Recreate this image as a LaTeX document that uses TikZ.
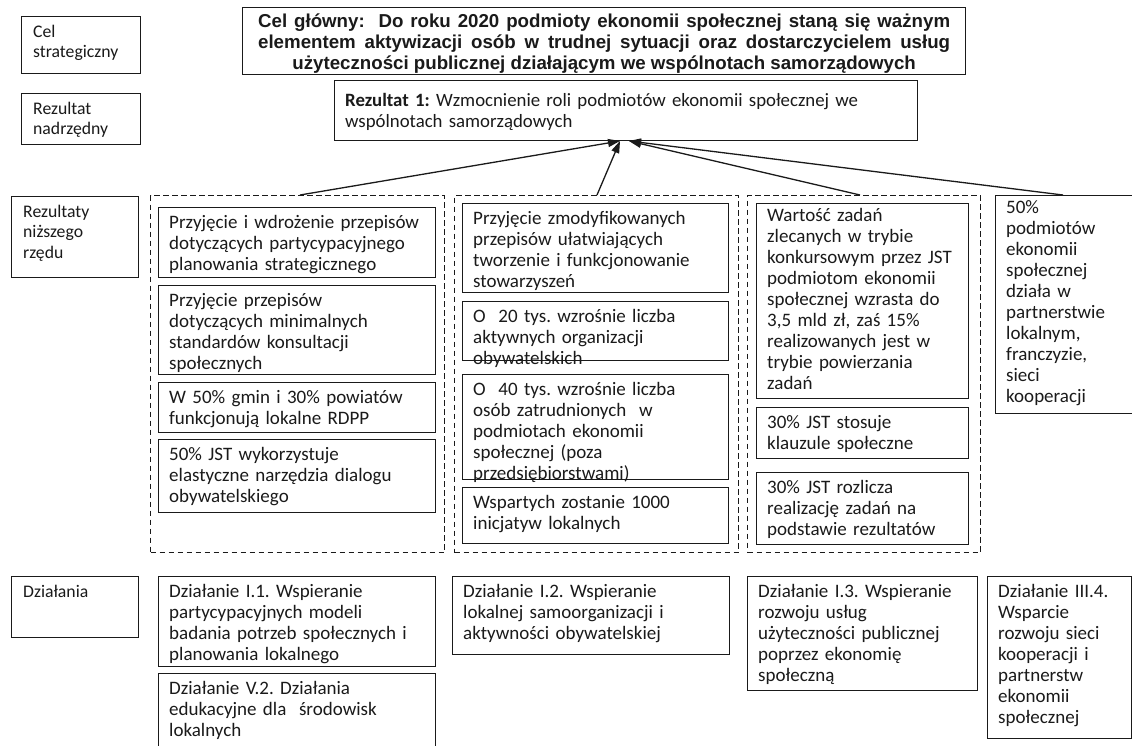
\documentclass[tikz,border=0pt]{standalone}
\usepackage{fontspec}
\usetikzlibrary{arrows.meta,calc}
\newfontfamily\calfont{Carlito}
\newfontfamily\arfont{Liberation Sans}
\definecolor{ink}{HTML}{1A1A1A}
\frenchspacing
\tikzset{
  bxs/.style={draw=ink, line width=1.3pt, anchor=north west, inner sep=0pt},
  dashcol/.style={draw=ink, line width=1.1pt, dash pattern=on 5.5pt off 3.5pt, anchor=north west, inner sep=0pt},
  txs/.style={anchor=north west, inner sep=0pt, align=left, text=ink,
    font=\calfont\fontsize{19}{21}\selectfont, execute at begin node=\strut},
  lbl/.style={font=\calfont\fontsize{17.7}{20.5}\selectfont},
  conn/.style={draw=ink, line width=1.3pt, -{Triangle[length=12pt,width=8pt]}},
}
\newcommand\bx[7][]{%
  \pgfmathsetmacro\bw{#5-#3}%
  \pgfmathsetmacro\bh{#6-#4}%
  \node[bxs, minimum width=\bw pt, minimum height=\bh pt] (#2) at (#3,#4) {};
  \node[txs, text width=\bw pt-12pt, #1] (#2t) at ([xshift=11pt,yshift=-6.5pt]#2.north west) {#7};
}
\newcommand\dcol[5]{%
  \pgfmathsetmacro\bw{#4-#2}%
  \pgfmathsetmacro\bh{#5-#3}%
  \node[dashcol, minimum width=\bw pt, minimum height=\bh pt] (#1) at (#2,#3) {};
}
\begin{document}
\begin{tikzpicture}[x=1pt,y=-1pt]
\useasboundingbox[fill=white] (0,0) rectangle (1132,746);

% left labels
\bx[lbl,xshift=1pt]{L1}{21}{16}{140}{73}{Cel\\strategiczny}
\bx[lbl,xshift=1pt]{L2}{21}{93}{140}{144}{Rezultat\\nadrzędny}
\bx[lbl,xshift=1pt]{L3}{11}{196}{138}{277}{Rezultaty\\niższego\\rzędu}
\bx[lbl,xshift=1pt]{L4}{11}{576}{138}{637}{Działania}

% main goal
\node[bxs, minimum width=723pt, minimum height=67pt] (main) at (242,7) {};
\node[inner sep=0pt, align=center, text=ink, font=\arfont\bfseries\fontsize{18.7}{21}\selectfont] (maint) at ([yshift=-2.5pt]main.center)
 {\hbox to 692pt{Cel główny:\ \ Do roku 2020 podmioty ekonomii społecznej staną się ważnym}\\
  \hbox to 692pt{elementem aktywizacji osób w trudnej sytuacji oraz dostarczycielem usług}\\
  użyteczności publicznej działającym we wspólnotach samorządowych};

% result 1
\bx[yshift=-5pt,font=\calfont\fontsize{18.8}{21}\selectfont]{rez}{334}{80}{917}{140}{\textbf{Rezultat 1:} Wzmocnienie roli podmiotów ekonomii społecznej we\\wspólnotach samorządowych}

% dashed columns
\dcol{C1}{150}{195}{444}{552}
\dcol{C2}{454}{195}{738}{552}
\dcol{C3}{747}{195}{980}{552}

% column 1
\bx{a1}{158}{207}{435}{277}{Przyjęcie i wdrożenie przepisów\\dotyczących partycypacyjnego\\planowania strategicznego}
\bx{a2}{158}{285}{435}{374}{Przyjęcie przepisów\\dotyczących minimalnych\\standardów konsultacji\\społecznych}
\bx{a3}{158}{382}{435}{432}{W 50\% gmin i 30\% powiatów\\funkcjonują lokalne RDPP}
\bx{a4}{158}{439}{435}{512}{50\% JST wykorzystuje\\elastyczne narzędzia dialogu\\obywatelskiego}

% column 2
\bx{b1}{462}{203}{728}{292}{Przyjęcie zmodyfikowanych\\przepisów ułatwiających\\tworzenie i funkcjonowanie\\stowarzyszeń}
\bx{b2}{462}{301}{728}{360}{O\ \ 20 tys. wzrośnie liczba\\aktywnych organizacji\\obywatelskich}
\bx{b3}{462}{374}{728}{479}{O\ \ 40 tys. wzrośnie liczba\\osób zatrudnionych\ \ w\\podmiotach ekonomii\\społecznej (poza\\przedsiębiorstwami)}
\bx{b4}{462}{487}{728}{543}{Wspartych zostanie 1000\\inicjatyw lokalnych}

% column 3
\bx[yshift=3pt]{c1}{756}{203}{968}{398}{Wartość zadań\\zlecanych w trybie\\konkursowym przez JST\\podmiotom ekonomii\\społecznej wzrasta do\\3,5 mld zł, zaś 15\%\\realizowanych jest w\\trybie powierzania\\zadań}
\bx{c2}{756}{407}{968}{458}{30\% JST stosuje\\klauzule społeczne}
\bx{c3}{756}{472}{968}{544}{30\% JST rozlicza\\realizację zadań na\\podstawie rezultatów}

% column 4
\bx[yshift=3pt]{e1}{995}{195}{1133}{413}{50\%\\podmiotów\\ekonomii\\społecznej\\działa w\\partnerstwie\\lokalnym,\\franczyzie,\\sieci\\kooperacji}

% actions
\bx{d1}{158}{576}{435}{666}{Działanie I.1. Wspieranie\\partycypacyjnych modeli\\badania potrzeb społecznych i\\planowania lokalnego}
\bx{d2}{158}{673}{435}{748}{Działanie V.2. Działania\\edukacyjne dla\ \ środowisk\\lokalnych}
\bx{d3}{452}{576}{729}{654}{Działanie I.2. Wspieranie\\lokalnej samoorganizacji i\\aktywności obywatelskiej}
\bx{d4}{747}{576}{977}{690}{Działanie I.3. Wspieranie\\rozwoju usług\\użyteczności publicznej\\poprzez ekonomię\\społeczną}
\bx{d5}{987}{576}{1131}{738}{Działanie III.4.\\Wsparcie\\rozwoju sieci\\kooperacji i\\partnerstw\\ekonomii\\społecznej}

% connectors
\coordinate (tipA) at (620,141);
\coordinate (tipB) at (629,141);
\draw[conn] ([xshift=150pt]C1.north west) -- (tipA);
\draw[conn] ([xshift=143pt]C2.north west) -- (tipA);
\draw[conn] ([xshift=113pt]C3.north west) -- (tipB);
\draw[conn] ([xshift=68pt]e1.north west) -- (tipB);
\end{tikzpicture}
\end{document}
